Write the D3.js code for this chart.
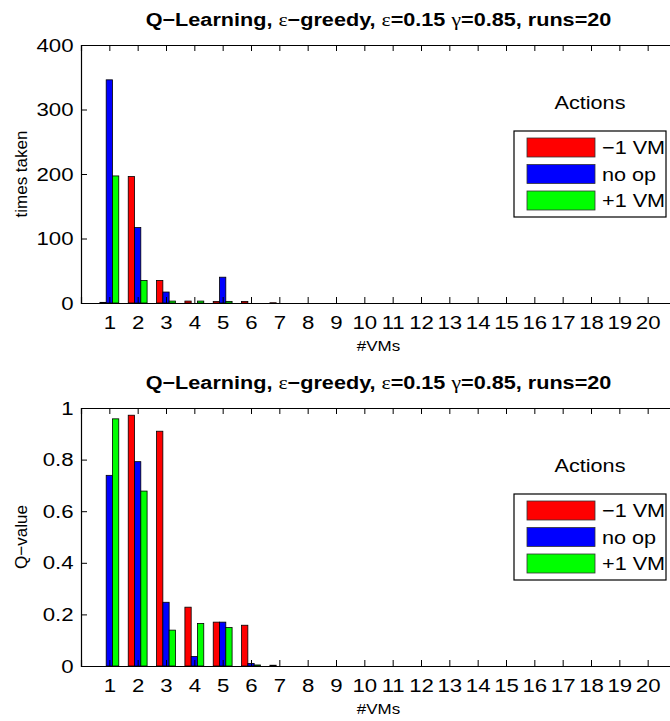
<!DOCTYPE html>
<html>
<head>
<meta charset="utf-8">
<script src="https://cdn.jsdelivr.net/npm/d3@7"></script>
<style>
  body { margin: 0; background: #fff; }
  svg { display: block; font-family: 'Liberation Sans', Arial, sans-serif; }
  .axis path, .axis line { stroke: #000; }
  .axis text { fill: #000; }
</style>
</head>
<body>
<div id="visualization"></div>
<script>
// categories (#VMs)
const vms = [1, 2, 3, 4, 5, 6, 7, 8, 9, 10, 11, 12, 13, 14, 15, 16, 17, 18, 19, 20]
const actions = ['\u22121 VM', 'no op', '+1 VM']
const colors = ['#ff0000', '#0000ff', '#00ff00']

// times taken per action
const takenMinus = [1, 196, 35, 3, 2.5, 2.5, 0.4, 0, 0, 0, 0, 0, 0, 0, 0, 0, 0, 0, 0, 0]
const takenNoop = [346, 117, 17, 0, 40, 0, 0, 0, 0, 0, 0, 0, 0, 0, 0, 0, 0, 0, 0, 0]
const takenPlus = [197, 35, 3, 3, 2.5, 0, 0, 0, 0, 0, 0, 0, 0, 0, 0, 0, 0, 0, 0, 0]

// Q-values per action
const qMinus = [0, 0.972, 0.91, 0.228, 0.17, 0.158, 0.003, 0, 0, 0, 0, 0, 0, 0, 0, 0, 0, 0, 0, 0]
const qNoop = [0.739, 0.792, 0.247, 0.037, 0.17, 0.01, 0, 0, 0, 0, 0, 0, 0, 0, 0, 0, 0, 0, 0, 0]
const qPlus = [0.958, 0.678, 0.139, 0.165, 0.149, 0.004, 0, 0, 0, 0, 0, 0, 0, 0, 0, 0, 0, 0, 0, 0]

const takenTicks = [0, 100, 200, 300, 400]
const qTicks = [0, 0.2, 0.4, 0.6, 0.8, 1]

const width = 670
const height = 721
const sx = 1.17 // the original figure text is a bit stretched horizontally

const svg = d3.select('#visualization')
  .append('svg')
  .attr('id', 'canvas')
  .attr('width', width)
  .attr('height', height)

// text placed at (x,y), widened by sx
function wideText(parent, x, y, size, str) {
  return parent.append('text')
    .attr('transform', `translate(${x},${y}) scale(${sx},1)`)
    .attr('font-size', size)
    .text(str)
}

function drawPanel(top, series, yMax, yTicks, yLabel) {
  const left = 81
  const right = 676
  const bottom = top + 258

  const x = d3.scaleLinear().domain([0, 21]).range([left, right])
  const y = d3.scaleLinear().domain([0, yMax]).range([bottom, top])
  const g = svg.append('g')

  // bars (grouped, adjacent)
  const bw = 0.222
  series.forEach((vals, si) => {
    g.append('g')
      .selectAll('rect')
      .data(vals.map((v, i) => ({ vm: vms[i], v })).filter(d => d.v > 0))
      .join('rect')
      .attr('x', d => x(d.vm + (si - 1) * bw - bw / 2))
      .attr('width', x(bw) - x(0))
      .attr('y', d => y(d.v))
      .attr('height', d => y(0) - y(d.v))
      .attr('fill', colors[si])
      .attr('stroke', '#000')
      .attr('stroke-width', 0.8)
  })

  const fmt = d => String(d)

  g.append('g')
    .attr('class', 'axis')
    .attr('transform', `translate(0,${bottom})`)
    .call(d3.axisBottom(x).tickValues(vms).tickSize(-6).tickPadding(13).tickFormat(fmt))
    .call(a => a.selectAll('text').attr('font-size', 19).attr('transform', `scale(${sx},1)`))

  g.append('g')
    .attr('class', 'axis')
    .attr('transform', `translate(0,${top})`)
    .call(d3.axisTop(x).tickValues(vms).tickSize(-6).tickFormat(''))

  g.append('g')
    .attr('class', 'axis')
    .attr('transform', `translate(${left},0)`)
    .call(d3.axisLeft(y).tickValues(yTicks).tickSize(-6).tickFormat(fmt))
    .call(a => a.selectAll('text')
      .attr('font-size', 19)
      .attr('x', -7.5 / sx)
      .attr('transform', `scale(${sx},1)`))

  g.append('g')
    .attr('class', 'axis')
    .attr('transform', `translate(${right},0)`)
    .call(d3.axisRight(y).tickValues(yTicks).tickSize(-6).tickFormat(''))

  g.selectAll('.axis .domain').attr('stroke-width', 1.2)

  // title
  const title = wideText(g, (left + right) / 2, top - 19, 18.5, null)
    .attr('text-anchor', 'middle')
    .attr('font-weight', 'bold')
  title.append('tspan').text('Q\u2212Learning, ')
  title.append('tspan').attr('font-family', 'Liberation Serif').attr('font-weight', 'normal').text('\u03b5')
  title.append('tspan').text('\u2212greedy, ')
  title.append('tspan').attr('font-family', 'Liberation Serif').attr('font-weight', 'normal').text('\u03b5')
  title.append('tspan').text('=0.15 ')
  title.append('tspan').attr('font-family', 'Liberation Serif').attr('font-weight', 'normal').text('\u03b3')
  title.append('tspan').text('=0.85, runs=20')

  wideText(g, (left + right) / 2, bottom + 48, 14.5, '#VMs')
    .attr('text-anchor', 'middle')

  g.append('text')
    .attr('transform', `translate(27,${(top + bottom) / 2}) rotate(-90)`)
    .attr('text-anchor', 'middle')
    .attr('font-size', 17)
    .text(yLabel)

  // legend
  const lg = g.append('g').attr('transform', `translate(514,${top + 86})`)
  wideText(lg, 76, -22, 18.5, 'Actions').attr('text-anchor', 'middle')
  lg.append('rect')
    .attr('width', 152)
    .attr('height', 86)
    .attr('fill', '#fff')
    .attr('stroke', '#000')
    .attr('stroke-width', 1.2)
  actions.forEach((name, i) => {
    lg.append('rect')
      .attr('x', 13)
      .attr('y', 7 + i * 26.5)
      .attr('width', 68)
      .attr('height', 19)
      .attr('fill', colors[i])
      .attr('stroke', '#333')
      .attr('stroke-width', 0.8)
    wideText(lg, 88, 23 + i * 26.5, 18.5, name)
  })
}

drawPanel(45, [takenMinus, takenNoop, takenPlus], 400, takenTicks, 'times taken')
drawPanel(408, [qMinus, qNoop, qPlus], 1, qTicks, 'Q\u2212value')
</script>
</body>
</html>
